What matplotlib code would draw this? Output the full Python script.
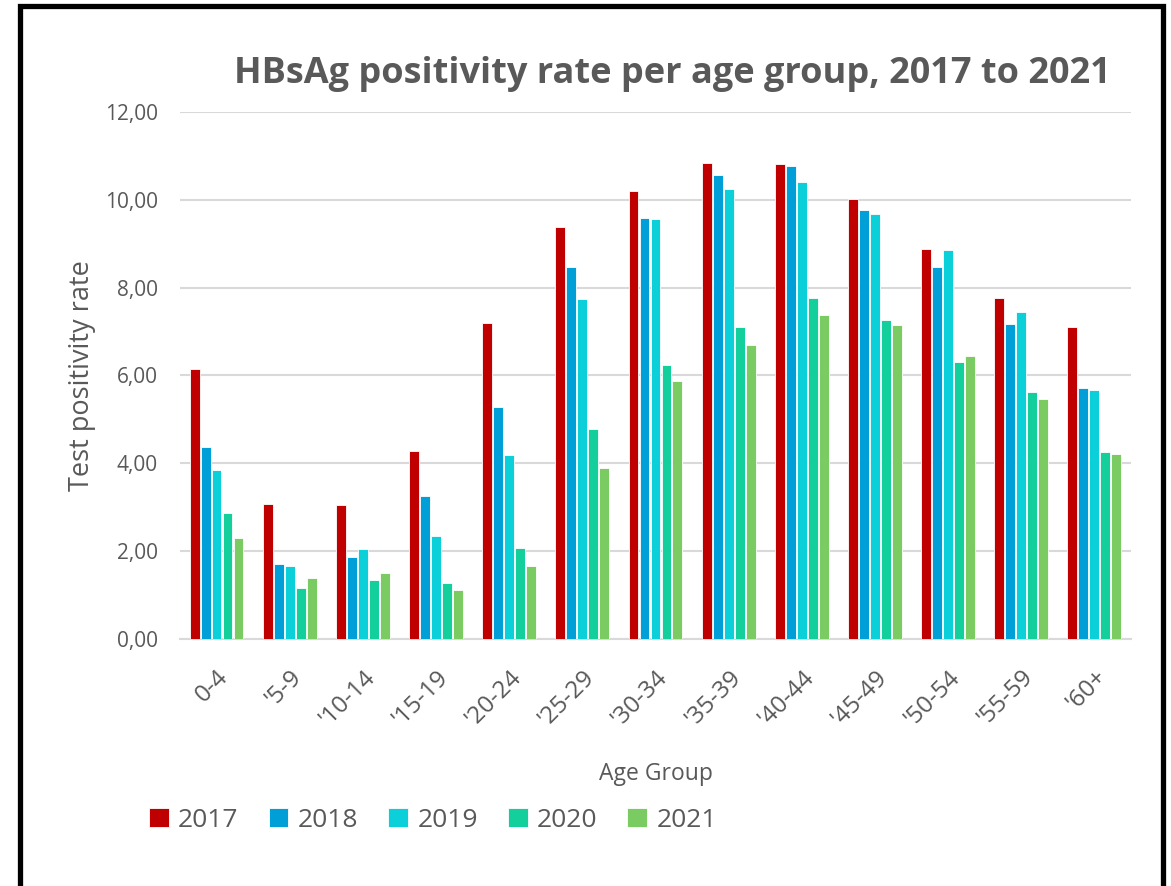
import matplotlib
matplotlib.use("Agg")
import matplotlib.pyplot as plt
import numpy as np
from matplotlib.patches import Rectangle
from matplotlib.ticker import FuncFormatter, MultipleLocator

plt.rcParams['font.family'] = ['Open Sans', 'DejaVu Sans']

age_groups = ["0-4", "'5-9", "'10-14", "'15-19", "'20-24", "'25-29", "'30-34",
              "'35-39", "'40-44", "'45-49", "'50-54", "'55-59", "'60+"]
years = ["2017", "2018", "2019", "2020", "2021"]

rate_2017 = [6.14, 3.07, 3.05, 4.27, 7.19, 9.39, 10.21, 10.84, 10.81, 10.02, 8.87, 7.76, 7.10]
rate_2018 = [4.38, 1.71, 1.87, 3.26, 5.29, 8.47, 9.58, 10.56, 10.78, 9.76, 8.47, 7.17, 5.71]
rate_2019 = [3.85, 1.66, 2.05, 2.34, 4.18, 7.74, 9.56, 10.25, 10.40, 9.68, 8.86, 7.45, 5.68]
rate_2020 = [2.88, 1.15, 1.34, 1.28, 2.07, 4.78, 6.24, 7.10, 7.76, 7.26, 6.31, 5.62, 4.26]
rate_2021 = [2.31, 1.40, 1.51, 1.12, 1.66, 3.89, 5.87, 6.69, 7.38, 7.15, 6.44, 5.46, 4.21]

series = [rate_2017, rate_2018, rate_2019, rate_2020, rate_2021]
colors = ["#C00000", "#009FD8", "#0BCFD9", "#12CF9B", "#7BCB63"]

text_gray = "#595959"
grid_gray = "#D9D9D9"

fig = plt.figure(figsize=(11.71, 8.86), dpi=100)
ax = fig.add_axes([0.1537, 0.2788, 0.8121, 0.5948])

x = np.arange(len(age_groups))
step = 0.15
width = 0.135
for i, (vals, col, yr) in enumerate(zip(series, colors, years)):
    offset = (i - 2) * step
    ax.bar(x + offset, vals, width=width, color=col, label=yr,
           edgecolor="white", linewidth=0.6, zorder=3)

ax.set_xlim(-0.5, len(age_groups) - 0.5)
ax.set_ylim(0, 12)
ax.yaxis.set_major_locator(MultipleLocator(2))
ax.yaxis.set_major_formatter(FuncFormatter(lambda v, p: f"{v:.2f}".replace(".", ",")))
ax.grid(axis="y", color=grid_gray, linewidth=1.5, zorder=0)
ax.set_axisbelow(True)

for side in ["top", "right", "left"]:
    ax.spines[side].set_visible(False)
ax.spines["bottom"].set_color(grid_gray)
ax.spines["bottom"].set_linewidth(1.5)

ax.tick_params(axis="both", length=0, colors=text_gray)
ax.tick_params(axis="y", labelsize=15, pad=16)
ax.set_xticks(x)
ax.set_xticklabels(age_groups, rotation=45, ha="right", va="top",
                   rotation_mode="anchor", fontsize=17.5, color=text_gray)
ax.tick_params(axis="x", pad=19)

ax.set_ylabel("Test positivity rate", fontsize=19.5, color=text_gray, labelpad=6)
ax.set_xlabel("Age Group", fontsize=16.5, color=text_gray, labelpad=22)

fig.text(0.574, 0.916, "HBsAg positivity rate per age group, 2017 to 2021",
         ha="center", va="center", fontsize=26, fontweight="bold", color=text_gray)

leg = fig.legend(loc="center left", bbox_to_anchor=(0.107, 0.074), ncol=5,
                 frameon=False, fontsize=19, handlelength=0.75, handleheight=0.75,
                 handletextpad=0.35, columnspacing=1.14, labelcolor=text_gray)

# heavy frame around the chart, open at the bottom edge
frame = Rectangle((20 / 1171, -0.05), (1163 - 20) / 1171, (886 - 6.5) / 886 + 0.05,
                  transform=fig.transFigure, fill=False, edgecolor="black",
                  linewidth=3.8, zorder=10)
fig.patches.append(frame)

fig.savefig("out.png", dpi=100, facecolor="white")
